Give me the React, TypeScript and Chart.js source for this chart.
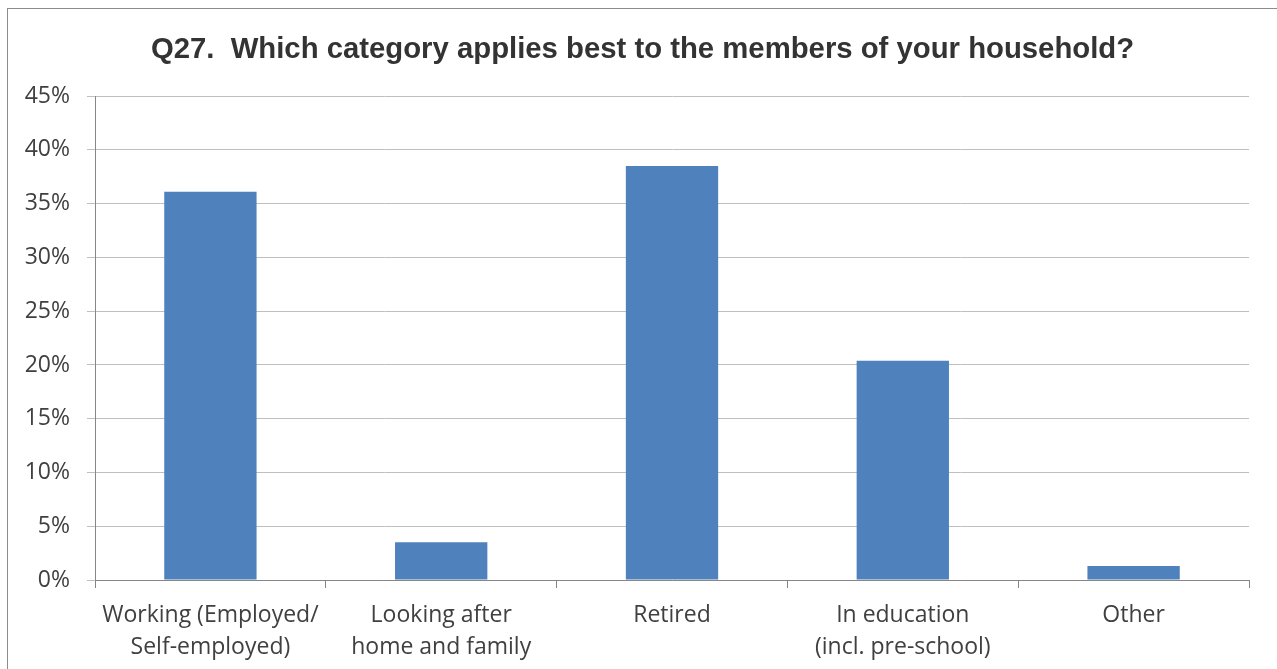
import React, { useEffect, useRef } from "react";
import { Chart, registerables } from "chart.js";

Chart.register(...registerables);

const TITLE = "Q27.  Which category applies best to the members of your household?";
const categories: string[][] = [
  ["Working (Employed/", "Self-employed)"],
  ["Looking after", "home and family"],
  ["Retired"],
  ["In education", "(incl. pre-school)"],
  ["Other"],
];
const values: number[] = [36.1, 3.5, 38.5, 20.4, 1.3];
const yTicks: number[] = [0, 5, 10, 15, 20, 25, 30, 35, 40, 45];

export default function App() {
  const ref = useRef<HTMLCanvasElement>(null);
  useEffect(() => {
    document.body.style.overflow = "hidden";
    const ctx = ref.current!;
    const chart = new Chart(ctx, {
      type: "bar",
      data: {
        labels: categories,
        datasets: [
          {
            data: values,
            backgroundColor: "#4f81bd",
            borderWidth: 0,
            barPercentage: 0.4,
            categoryPercentage: 1,
          },
        ],
      },
      options: {
        responsive: false,
        animation: false,
        devicePixelRatio: 1,
        layout: { padding: { left: 0, right: 0, top: 0, bottom: 0 } },
        plugins: {
          legend: { display: false },
          tooltip: { enabled: false },
          title: {
            display: true,
            text: TITLE,
            color: "#333333",
            font: { family: "Liberation Sans", size: 29.3, weight: "bold", lineHeight: 1.2 },
            padding: { top: 23, bottom: 29 },
          },
        },
        scales: {
          x: {
            afterFit: (s: any) => {
              s.height = 89;
            },
            grid: {
              display: true,
              drawOnChartArea: false,
              drawTicks: true,
              tickLength: 8,
              color: "#868686",
              offset: true,
            },
            border: { display: true, color: "#868686", width: 1 },
            ticks: {
              color: "#404040",
              font: { family: "Open Sans", size: 23, lineHeight: 1.38 },
              padding: 12,
              maxRotation: 0,
              autoSkip: false,
            },
          },
          y: {
            min: 0,
            max: 45,
            afterFit: (s: any) => {
              s.width = 87;
            },
            afterBuildTicks: (s: any) => {
              s.ticks = yTicks.map((v) => ({ value: v }));
            },
            grid: {
              color: "#bfbfbf",
              tickLength: 8,
              lineWidth: 1,
            },
            border: { display: true, color: "#868686", width: 1 },
            ticks: {
              color: "#404040",
              font: { family: "Open Sans", size: 23 },
              padding: 17,
              callback: (v: any) => v + "%",
            },
          },
          spacer: {
            type: "linear",
            position: "right",
            display: true,
            afterFit: (s: any) => {
              s.width = 28;
            },
            grid: { display: false, drawOnChartArea: false },
            border: { display: false },
            ticks: { display: false },
          },
        },
      },
    });
    return () => chart.destroy();
  }, []);
  return (
    <div
      style={{
        position: "fixed",
        left: 7,
        top: 8,
        right: 0,
        bottom: 0,
        borderTop: "1px solid #8c8c8c",
        borderLeft: "1px solid #8c8c8c",
        background: "#fff",
        overflow: "hidden",
      }}
    >
      <canvas ref={ref} width={1269} height={660} style={{ display: "block" }} />
    </div>
  );
}
